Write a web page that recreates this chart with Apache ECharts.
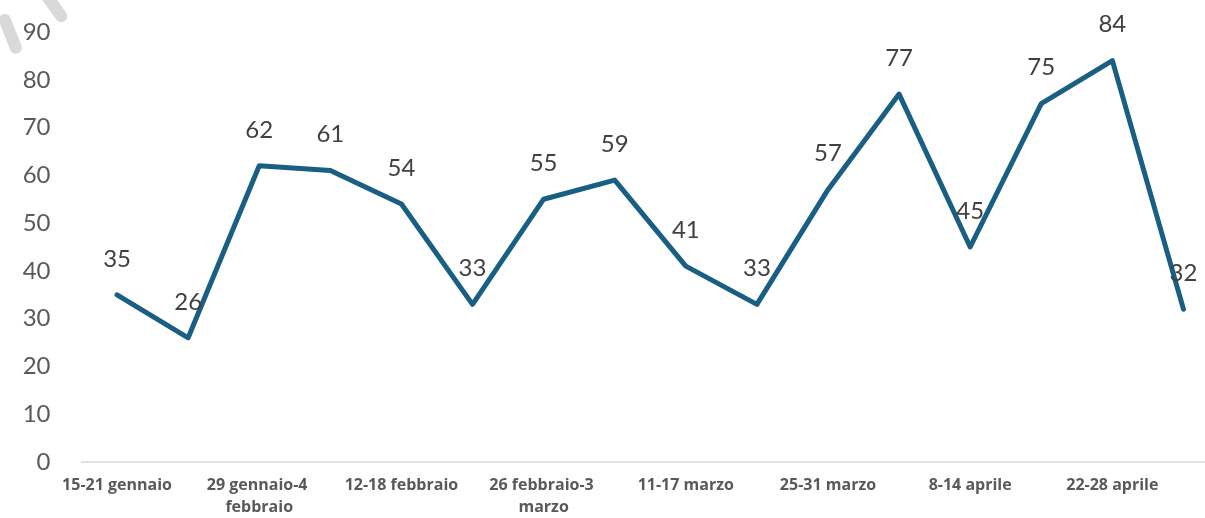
<!DOCTYPE html>
<html>
<head>
<meta charset="utf-8">
<script src="https://cdn.jsdelivr.net/npm/echarts@6/dist/echarts.min.js"></script>
<style>
  html, body { margin: 0; padding: 0; background: #fff; overflow: hidden; }
  /* il grafico originale è tagliato a destra: il contenitore è più largo della finestra */
  #chart { width: 1219px; height: 518px; }
</style>
</head>
<body>
<div id="chart"></div>
<script>
// settimane
var weeks = [
  '15-21 gennaio', '22-28 gennaio', '29 gennaio-4 febbraio', '5-11 febbraio',
  '12-18 febbraio', '19-25 febbraio', '26 febbraio-3 marzo', '4-10 marzo',
  '11-17 marzo', '18-24 marzo', '25-31 marzo', '1-7 aprile',
  '8-14 aprile', '15-21 aprile', '22-28 aprile', '29 aprile-5 maggio'
];
var values = [35, 26, 62, 61, 54, 33, 55, 59, 41, 33, 57, 77, 45, 75, 84, 32];
var yTicks = [0, 10, 20, 30, 40, 50, 60, 70, 80, 90];

var numFont = 'Lato, "Open Sans", sans-serif';
var catFont = '"Open Sans", Lato, sans-serif';
var chart = echarts.init(document.getElementById('chart'));

chart.setOption({
  backgroundColor: '#fff',
  animation: false,
  grid: { left: 81.5, right: 0, top: 32, bottom: 55 },
  graphic: [
    // resti della filigrana in alto a sinistra
    { type: 'rect', left: -3, top: 12, rotation: -Math.PI * 0.38,
      shape: { width: 42, height: 12, r: 6 }, style: { fill: '#d9d9d9' } },
    { type: 'rect', left: 40, top: -10, rotation: -Math.PI * 0.3,
      shape: { width: 34, height: 12, r: 6 }, style: { fill: '#d9d9d9' } }
  ],
  xAxis: {
    type: 'category',
    data: weeks,
    boundaryGap: true,
    axisLine: { lineStyle: { color: '#d9d9d9', width: 1.5 } },
    axisTick: { show: false },
    axisLabel: {
      interval: 1,
      margin: 12,
      color: '#595959',
      fontFamily: catFont,
      fontWeight: 'bold',
      fontSize: 16,
      lineHeight: 22,
      width: 135,
      overflow: 'break'
    },
    splitLine: { show: false }
  },
  yAxis: {
    type: 'value',
    min: yTicks[0],
    max: yTicks[yTicks.length - 1],
    interval: 10,
    axisLine: { show: false },
    axisTick: { show: false },
    splitLine: { show: false },
    axisLabel: { color: '#595959', fontFamily: numFont, fontSize: 24, margin: 31 }
  },
  series: [{
    type: 'line',
    data: values,
    symbol: 'circle',
    symbolSize: 2,
    showSymbol: true,
    itemStyle: { color: 'transparent', borderWidth: 0 },
    lineStyle: { color: '#195E83', width: 5, join: 'round', cap: 'round' },
    label: {
      show: true,
      position: 'top',
      distance: 23,
      color: '#404040',
      fontFamily: numFont,
      fontSize: 24
    },
    labelLayout: { hideOverlap: false }
  }]
});
</script>
</body>
</html>
